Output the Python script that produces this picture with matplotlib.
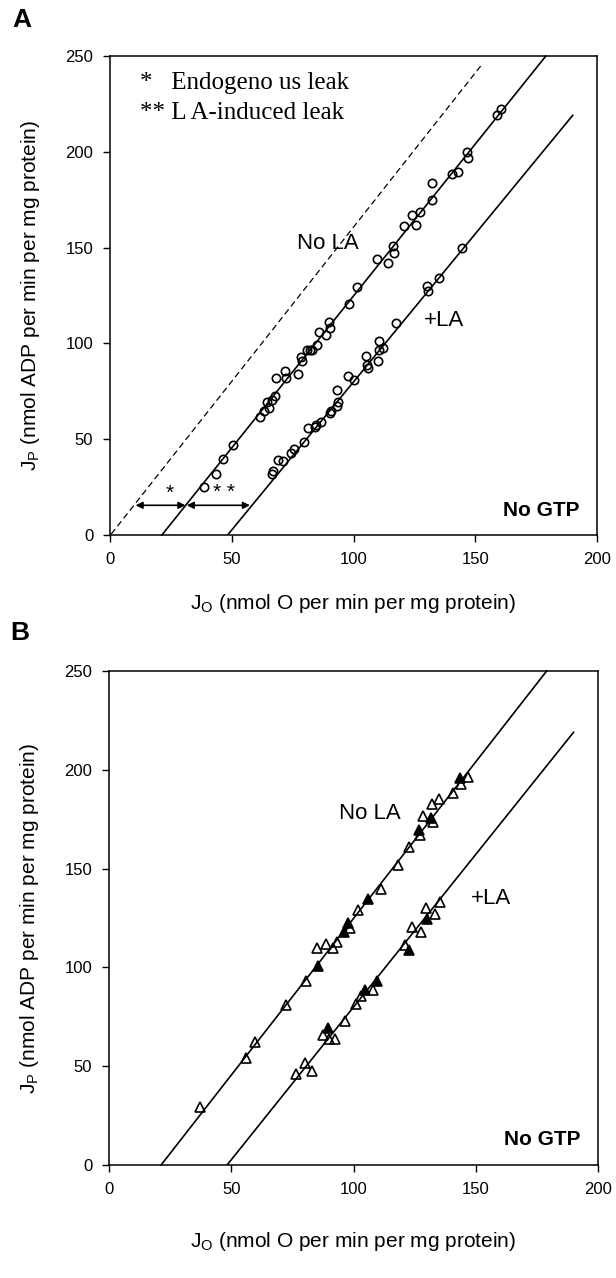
import matplotlib.pyplot as plt
import numpy as np

plt.rcParams['font.family'] = ['Liberation Sans', 'DejaVu Sans']
plt.rcParams['mathtext.default'] = 'regular'

W, H = 616, 1278

# ---- panel A: circles ----
a_nola_x = [38.8, 43.7, 46.4, 50.4, 61.8, 63.1, 64.5, 65.5, 66.6, 67.7, 68.2, 71.9, 72.3,
            77.1, 78.3, 78.7, 80.7, 82.0, 82.8, 85.2, 85.7, 88.6, 90.1, 90.5, 98.0, 101.4,
            109.5, 114.3, 116.4, 116.7, 120.8, 124.2, 125.6, 127.2, 132.1, 132.4, 140.5,
            142.9, 146.6, 147.0, 159.1, 160.7]
a_nola_y = [24.8, 32.0, 39.5, 47.2, 61.4, 64.5, 69.2, 66.5, 70.6, 72.6, 81.8, 85.8, 81.8,
            83.8, 93.0, 90.9, 96.6, 96.6, 96.6, 99.1, 105.8, 104.2, 111.3, 108.2, 120.4, 129.2,
            144.2, 142.2, 150.9, 147.3, 161.1, 167.2, 161.7, 168.6, 183.5, 174.7, 188.6,
            189.2, 199.8, 196.7, 219.1, 222.1]
a_la_x = [66.6, 67.1, 69.0, 71.1, 74.4, 75.5, 79.5, 81.2, 84.1, 84.4, 86.8, 90.5, 90.9,
          93.3, 93.8, 93.3, 97.8, 100.1, 105.1, 105.4, 105.9, 109.9, 110.6, 110.3, 112.2,
          117.5, 130.0, 130.5, 135.0, 144.5]
a_la_y = [31.9, 33.4, 39.1, 38.4, 42.7, 44.8, 48.6, 55.9, 56.3, 57.4, 59.0, 63.5, 64.5,
          67.5, 69.6, 75.7, 83.2, 80.8, 93.6, 88.5, 86.9, 90.9, 101.1, 96.4, 97.6,
          110.7, 130.0, 127.1, 134.3, 149.9]

# ---- panel B: triangles (open / filled) ----
b_nola_open_x = [37.3, 56.1, 59.8, 72.5, 80.7, 85.0, 88.7, 91.5, 93.1, 98.7, 101.9, 111.3,
                 118.0, 122.8, 127.2, 128.5, 132.5, 132.2, 134.9, 140.5, 144.0, 146.9]
b_nola_open_y = [29.3, 54.3, 62.5, 81.1, 93.0, 110.0, 111.9, 110.0, 112.9, 119.7, 128.9, 139.6,
                 152.0, 160.7, 167.0, 176.4, 173.4, 182.6, 185.2, 188.1, 193.0, 196.3]
b_nola_fill_x = [85.5, 96.3, 97.9, 105.9, 126.8, 131.7, 143.4]
b_nola_fill_y = [100.6, 117.8, 122.7, 134.4, 169.5, 175.4, 195.9]
b_la_open_x = [76.5, 80.2, 83.0, 87.5, 90.0, 92.3, 96.6, 101.1, 103.2, 107.9, 120.9, 124.1,
               127.7, 129.7, 133.3, 135.2]
b_la_open_y = [45.9, 51.4, 47.5, 66.0, 63.7, 63.7, 72.9, 81.6, 85.5, 88.5, 111.3, 120.3,
               117.8, 129.9, 127.1, 133.0]
b_la_fill_x = [89.5, 104.8, 109.5, 122.8, 130.1]
b_la_fill_y = [69.5, 88.5, 93.0, 108.8, 124.6]

# regression lines and the theoretical (dashed) line
nola_line_x = [21.3, 179.0]
nola_line_y = [0, 250]
la_line_x = [48.3, 190.0]
la_line_y = [0, 219]
dash_x = [0.5, 153.0]
dash_y = [0.5, 246.0]


def make_axes(l, r, t, b):
    ax = fig.add_axes([l / W, 1 - b / H, (r - l) / W, (b - t) / H])
    ax.set_xlim(0, 200)
    ax.set_ylim(0, 250)
    ax.set_xticks([0, 50, 100, 150, 200])
    ax.set_yticks([0, 50, 100, 150, 200, 250])
    ax.tick_params(direction='out', length=5, width=1, labelsize=12, pad=7)
    for s in ax.spines.values():
        s.set_linewidth(1.1)
    ax.plot(nola_line_x, nola_line_y, color='black', lw=1.2, clip_on=False)
    ax.plot(la_line_x, la_line_y, color='black', lw=1.2)
    ax.set_xlabel(r'J$_O$ (nmol O per min per mg protein)', fontsize=15)
    ax.set_ylabel(r'J$_P$ (nmol ADP per min per mg protein)', fontsize=15)
    ax.text(193, 13, 'No GTP', fontsize=15, fontweight='bold', ha='right', va='center')
    return ax


fig = plt.figure(figsize=(W / 100, H / 100), dpi=100)

# Panel A
ax = make_axes(110, 597, 56, 535)
ax.plot(dash_x, dash_y, color='black', lw=0.9, ls=(0, (5, 3)))
ax.plot(a_nola_x, a_nola_y, 'o', mfc='none', mec='black', ms=6, mew=1.2)
ax.plot(a_la_x, a_la_y, 'o', mfc='none', mec='black', ms=6, mew=1.2)
ax.annotate('', xy=(10.5, 15.5), xytext=(31, 15.5),
            arrowprops=dict(arrowstyle='<|-|>', color='black', lw=1.2, mutation_scale=10, shrinkA=0, shrinkB=0))
ax.annotate('', xy=(31.5, 15.5), xytext=(57.5, 15.5),
            arrowprops=dict(arrowstyle='<|-|>', color='black', lw=1.2, mutation_scale=10, shrinkA=0, shrinkB=0))
ax.text(24.5, 22, '*', fontsize=15, ha='center', va='center')
ax.text(47, 22, '* *', fontsize=15, ha='center', va='center')
ax.text(12.5, 236, '*   Endogeno us leak', fontsize=18, family='Liberation Serif', va='center')
ax.text(12.5, 220, '** L A-induced leak', fontsize=18, family='Liberation Serif', va='center')
ax.text(77, 152, 'No LA', fontsize=16, va='center')
ax.text(129, 112, '+LA', fontsize=16, va='center')
ax.xaxis.set_label_coords(0.5, -0.118)
ax.yaxis.set_label_coords(-0.14, 0.5)
fig.text(12 / W, 1 - 20 / H, 'A', fontsize=19, fontweight='bold', va='center')

# Panel B
ax = make_axes(109, 598, 671, 1165)
ax.plot(b_nola_open_x, b_nola_open_y, '^', mfc='none', mec='black', ms=6.5, mew=1.2)
ax.plot(b_la_open_x, b_la_open_y, '^', mfc='none', mec='black', ms=6.5, mew=1.2)
ax.plot(b_nola_fill_x, b_nola_fill_y, '^', mfc='black', mec='black', ms=6.5, mew=1.2)
ax.plot(b_la_fill_x, b_la_fill_y, '^', mfc='black', mec='black', ms=6.5, mew=1.2)
ax.text(94, 178, 'No LA', fontsize=16, va='center')
ax.text(148, 135, '+LA', fontsize=16, va='center')
ax.xaxis.set_label_coords(0.5, -0.132)
ax.yaxis.set_label_coords(-0.14, 0.5)
fig.text(10 / W, 1 - 633 / H, 'B', fontsize=19, fontweight='bold', va='center')

fig.savefig('out.png', dpi=100)
